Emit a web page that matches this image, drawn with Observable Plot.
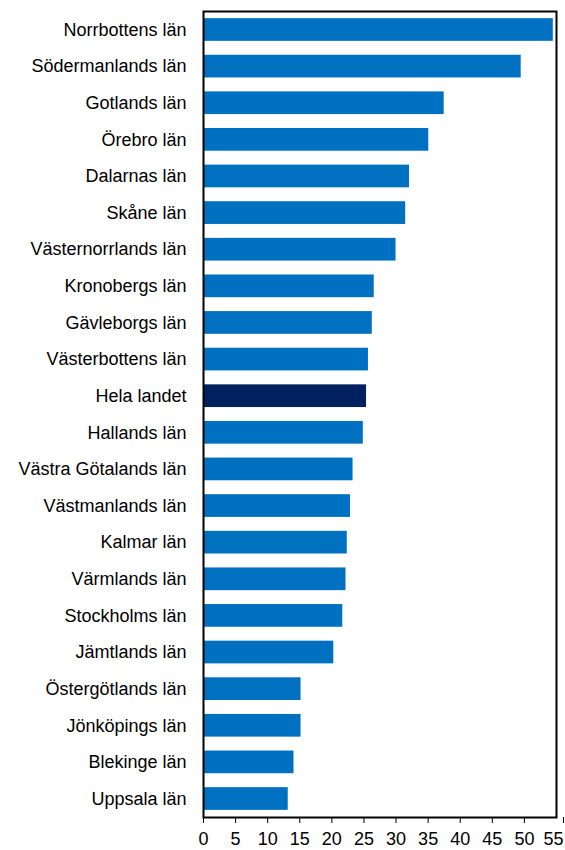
<!DOCTYPE html>
<html>
<head>
<meta charset="utf-8">
<script src="https://cdn.jsdelivr.net/npm/d3@7"></script>
<script src="https://cdn.jsdelivr.net/npm/@observablehq/plot@0.6"></script>
<style>
  html, body { margin: 0; padding: 0; background: #fff; }
  svg { display: block; }
</style>
</head>
<body>
<div id="chart"></div>
<script>
const regions = [
  "Norrbottens län", "Södermanlands län", "Gotlands län", "Örebro län",
  "Dalarnas län", "Skåne län", "Västernorrlands län", "Kronobergs län",
  "Gävleborgs län", "Västerbottens län", "Hela landet", "Hallands län",
  "Västra Götalands län", "Västmanlands län", "Kalmar län", "Värmlands län",
  "Stockholms län", "Jämtlands län", "Östergötlands län", "Jönköpings län",
  "Blekinge län", "Uppsala län"
];
const values = [
  54.5, 49.5, 37.5, 35.1,
  32.1, 31.5, 30.0, 26.6,
  26.3, 25.7, 25.4, 24.9,
  23.3, 22.9, 22.4, 22.2,
  21.7, 20.3, 15.2, 15.2,
  14.1, 13.2
];
const xTicks = [0, 5, 10, 15, 20, 25, 30, 35, 40, 45, 50, 55];
const highlight = "Hela landet";

const data = regions.map((r, i) => ({region: r, value: values[i]}));

const chart = Plot.plot({
  width: 565,
  height: 850,
  marginLeft: 203,
  marginRight: 9,
  marginTop: 11,
  marginBottom: 33,
  style: {fontFamily: "'Liberation Sans', Arial, sans-serif", fontSize: "18px", color: "#000", background: "#fff"},
  x: {domain: [0, 55], label: null},
  y: {domain: regions, paddingInner: 0.38, paddingOuter: 0.195, round: false, label: null},
  marks: [
    Plot.barX(data, {
      x: "value", y: "region",
      fill: d => d.region === highlight ? "#002060" : "#0070C0"
    }),
    Plot.axisY({tickSize: 0, tickPadding: 17, label: null}),
    Plot.axisX({ticks: xTicks.slice(0, -1), tickSize: 6, tickPadding: 9, label: null}),
    Plot.axisX({ticks: xTicks.slice(-1), tickSize: 6, tickPadding: 9, textAnchor: "end", dx: 7, label: null}),
    Plot.frame({stroke: "#000", strokeWidth: 2})
  ]
});
document.getElementById("chart").appendChild(chart);
</script>
</body>
</html>
